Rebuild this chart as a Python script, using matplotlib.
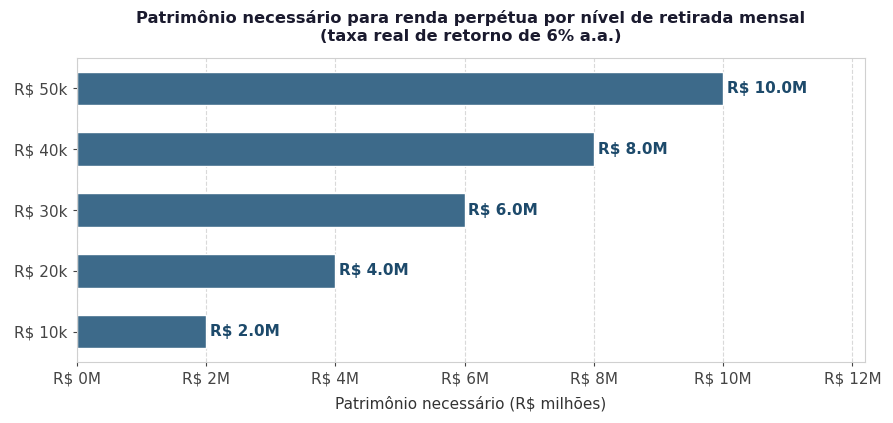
import numpy as np
import matplotlib.pyplot as plt
import seaborn as sns

################################
# Data
################################
withdrawals = ["R$ 10k", "R$ 20k", "R$ 30k", "R$ 40k", "R$ 50k"]
patrimony = [2.0, 4.0, 6.0, 8.0, 10.0]   # R$ millions
xticks = [0, 2, 4, 6, 8, 10, 12]

bar_color = "#3d6a8a"
text_color = "#1d4a6b"

sns.set_style("whitegrid")
plt.rcParams['font.family'] = ['DejaVu Sans']

fig, ax = plt.subplots(figsize=(8.93, 4.23), dpi=100)
fig.subplots_adjust(left=0.086, right=0.969, top=0.863, bottom=0.144)

ypos = np.arange(len(withdrawals))
ax.barh(ypos, patrimony, height=0.55, color=bar_color)

# value labels at bar ends
for y, v in zip(ypos, patrimony):
    ax.text(v + 0.06, y, f"R$ {v:.1f}M", va="center", ha="left",
            fontsize=11, fontweight="bold", color=text_color)

ax.set_yticks(ypos)
ax.set_yticklabels(withdrawals)
ax.set_xticks(xticks)
ax.set_xticklabels([f"R$ {t}M" for t in xticks])
ax.set_xlim(0, 12.2)
ax.set_ylim(-0.5, 4.5)

ax.grid(axis="y", visible=False)
ax.grid(axis="x", linestyle="--", color="#d9d9d9", linewidth=0.8)
for s in ax.spines.values():
    s.set_color("#d0d0d0")
ax.tick_params(axis="both", labelsize=11, colors="#444444", length=3,
               left=True, bottom=True)

ax.set_xlabel("Patrimônio necessário (R$ milhões)", fontsize=11,
              color="#333333", labelpad=7)
ax.set_title("Patrimônio necessário para renda perpétua por nível de retirada mensal\n"
             "(taxa real de retorno de 6% a.a.)",
             fontsize=11.7, fontweight="bold", color="#1a1a2e", pad=12,
             linespacing=1.25)

fig.savefig("out.png", dpi=100)
